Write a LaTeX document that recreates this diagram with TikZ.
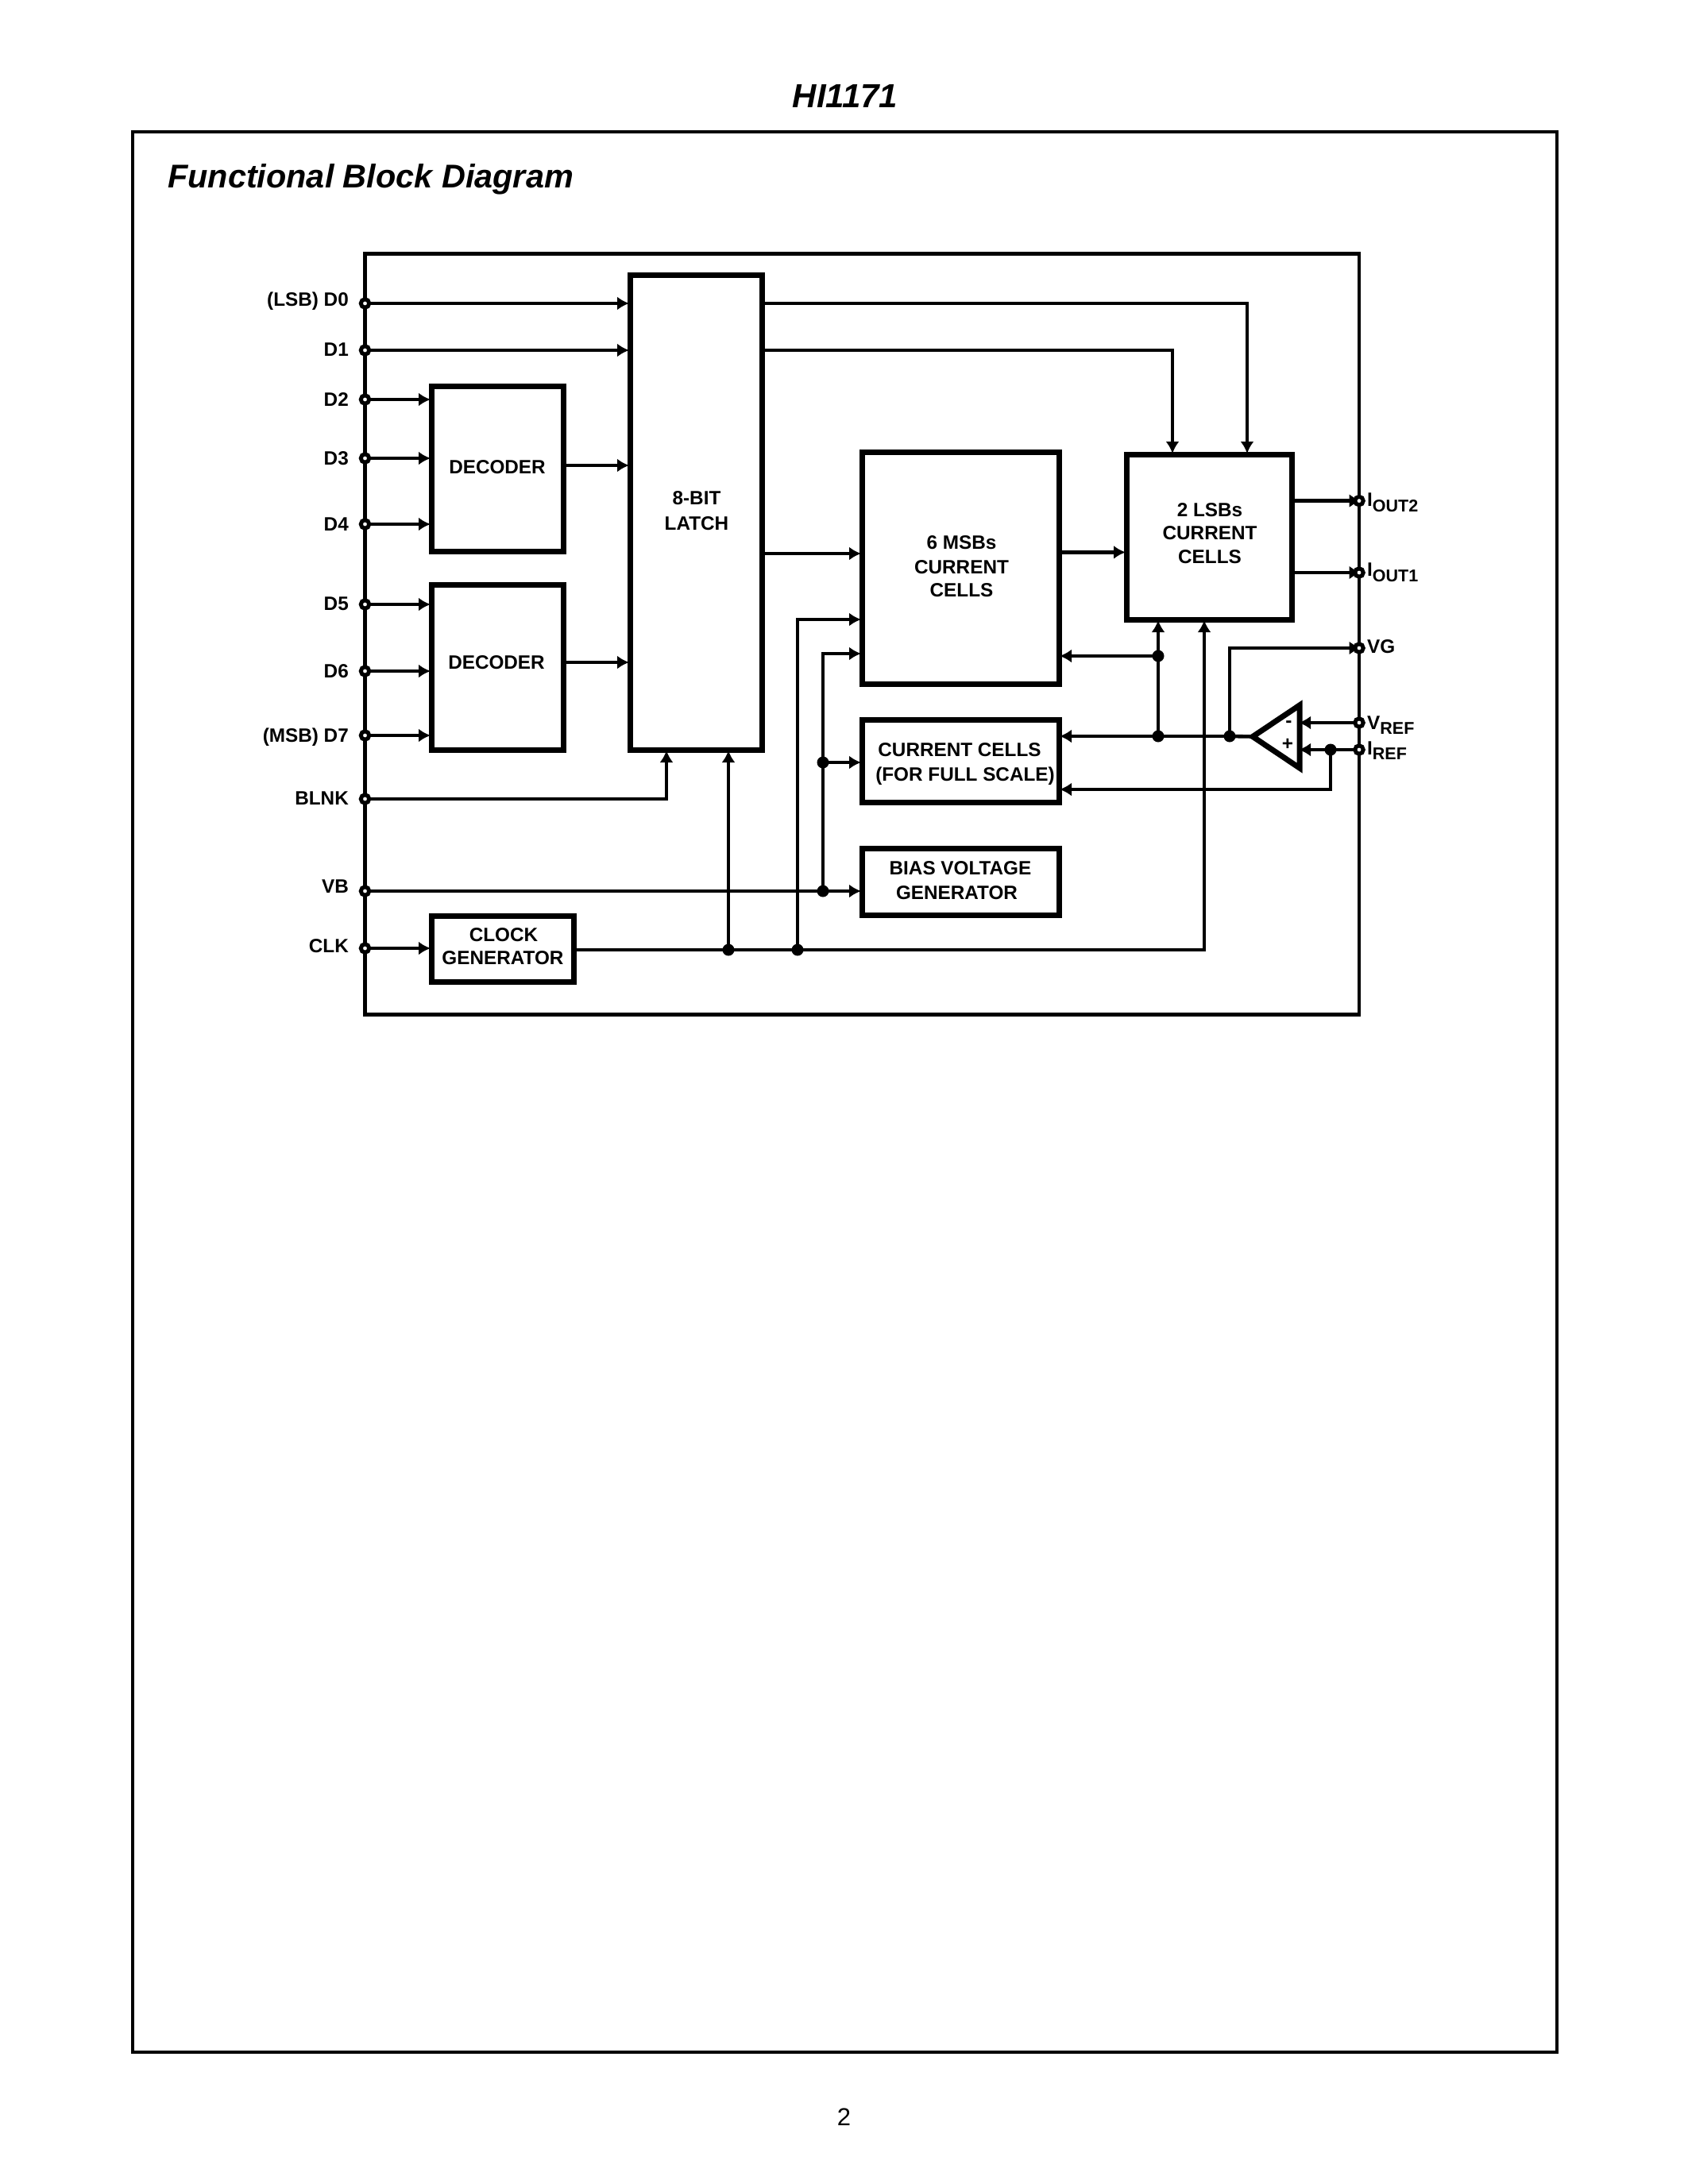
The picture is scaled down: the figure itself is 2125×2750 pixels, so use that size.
\documentclass[tikz,border=0pt]{standalone}
\usepackage{fontspec}
\setmainfont{Liberation Sans}
\usetikzlibrary{arrows.meta,calc}
\tikzset{
 wire/.style={line width=4.6pt},
 awire/.style={wire,-{Latex[length=15pt,width=17pt]},shorten >=-2.5pt},
 block/.style={draw,line width=7pt,inner sep=0pt,font=\fontsize{24.3}{28}\selectfont\bfseries,align=center},
 lab/.style={inner sep=0pt,font=\fontsize{24.3}{28}\selectfont\bfseries},
 term/.style={circle,draw,fill=white,line width=5pt,minimum size=10.5pt,inner sep=0pt},
 dot/.style={circle,fill=black,minimum size=15pt,inner sep=0pt},
}
\begin{document}
\begin{tikzpicture}[x=1pt,y=-1pt]
\useasboundingbox (0,0) rectangle (2125,2750);
\fill[white] (0,0) rectangle (2125,2750);
\node[inner sep=0pt,font=\fontsize{42}{48}\selectfont\bfseries\itshape] (title) at (1064,121) {HI1171};
\node[draw,line width=4.6pt,inner sep=0pt,anchor=north west,minimum width=1793pt,minimum height=2418pt] (frame) at (164.7,163.7) {};
\node[inner sep=0pt,anchor=base west,font=\fontsize{41.4}{48}\selectfont\bfseries\itshape] (heading) at (211,236) {Functional Block Diagram};
\node[inner sep=0pt,font=\fontsize{31}{36}\selectfont] (page) at (1062.5,2666) {2};

% package outline
\node[draw,line width=4.6pt,inner sep=0pt,anchor=north west,minimum width=1251.4pt,minimum height=957.8pt] (chip) at (457.1,317.3) {};

% blocks
\node[block,anchor=north west,minimum width=166pt,minimum height=208pt] (dec1) at (539.5,482.5) {};
\node[block,anchor=north west,minimum width=166pt,minimum height=208pt] (dec2) at (539.5,732.5) {};
\node[block,anchor=north west,minimum width=166pt,minimum height=598pt] (latch) at (789.5,342.5) {};
\node[block,anchor=north west,minimum width=248pt,minimum height=292pt] (msb) at (1081.5,565.5) {};
\node[block,anchor=north west,minimum width=208pt,minimum height=208pt] (lsb) at (1414.5,568.5) {};
\node[block,anchor=north west,minimum width=248pt,minimum height=104pt] (ccell) at (1081.5,903) {};
\node[block,anchor=north west,minimum width=248pt,minimum height=84pt] (bias) at (1081.5,1065) {};
\node[block,anchor=north west,minimum width=179pt,minimum height=83pt] (clkgen) at (539.5,1149.5) {};

% block texts
\node[lab] (t1) at (626,588) {DECODER};
\node[lab] (t2) at (625,834) {DECODER};
\node[lab] (t3) at (877,627) {8-BIT};
\node[lab] (t4) at (877,659) {LATCH};
\node[lab] (t5) at (1210.5,683) {6 MSBs};
\node[lab] (t6) at (1210.5,714) {CURRENT};
\node[lab] (t7) at (1210.5,743) {CELLS};
\node[lab] (t8) at (1523,642) {2 LSBs};
\node[lab] (t9) at (1523,671) {CURRENT};
\node[lab] (t10) at (1523,701) {CELLS};
\node[lab] (t11) at (1208,944) {CURRENT CELLS};
\node[lab] (t12) at (1215,977) {(FOR FULL SCALE)};
\node[lab] (t13) at (1209,1093) {BIAS VOLTAGE};
\node[lab] (t14) at (1204.5,1124) {GENERATOR};
\node[lab] (t15) at (634,1177) {CLOCK};
\node[lab] (t16) at (633,1206) {GENERATOR};

% amplifier
\coordinate (ampT) at (1636,888);
\coordinate (ampB) at (1636,967);
\coordinate (ampO) at (1577,927.5);
\coordinate (ampR) at (1637.5,927.5);
\draw[line width=7pt,miter limit=10,line join=miter] (ampT) -- (ampO) -- (ampB) -- cycle;
\node[lab] (minus) at (1622.5,912) {-};
\node[lab] (plus) at (1621,937) {+};

% left terminals
\foreach \n/\y/\tx/\ty in {d0/382/(LSB) D0/379,d1/441/D1/440,d2/503/D2/503,d3/577/D3/577,d4/660/D4/660,d5/761/D5/760,d6/845/D6/845.5,d7/926/(MSB) D7/928,blnk/1006/BLNK/1005,vb/1122/VB/1116,clk/1194/CLK/1191}{
  \coordinate (\n) at (459.5,\y);
  \node[lab,anchor=east] (l\n) at (439,\ty) {\tx};
}
% right terminals
\foreach \n/\y in {iout2/630.6,iout1/721,vg/816,vref/910,iref/944}{
  \coordinate (\n) at (1711,\y);
}
\node[lab,anchor=west] (liout2) at (1721,632.5) {I\raisebox{-7pt}{\fontsize{21.5}{24}\selectfont OUT2}};
\node[lab,anchor=west] (liout1) at (1721,720.5) {I\raisebox{-7pt}{\fontsize{21.5}{24}\selectfont OUT1}};
\node[lab,anchor=west] (lvg) at (1721,814) {VG};
\node[lab,anchor=west] (lvref) at (1721,913) {V\raisebox{-6pt}{\fontsize{21.5}{24}\selectfont REF}};
\node[lab,anchor=west] (liref) at (1721,945) {I\raisebox{-6pt}{\fontsize{21.5}{24}\selectfont REF}};

% internal points
\coordinate (vbus2) at (1036,1122);
\coordinate (ck1) at (917,1196);
\coordinate (ck2) at (1004,1196);
\coordinate (ck3) at (1516,1196);
\coordinate (jF) at (1458,927);
\coordinate (jB) at (1458,826);
\coordinate (jV) at (1548,927);
\coordinate (jI) at (1675,944);
\coordinate (jC) at (1036,960);

% inputs
\draw[awire] (d0) -- (d0 -| latch.west);
\draw[awire] (d1) -- (d1 -| latch.west);
\draw[awire] (d2) -- (d2 -| dec1.west);
\draw[awire] (d3) -- (d3 -| dec1.west);
\draw[awire] (d4) -- (d4 -| dec1.west);
\draw[awire] (d5) -- (d5 -| dec2.west);
\draw[awire] (d6) -- (d6 -| dec2.west);
\draw[awire] (d7) -- (d7 -| dec2.west);
\draw[awire] (dec1.east |- 0,586) -- (latch.west |- 0,586);
\draw[awire] (dec2.east |- 0,834) -- (latch.west |- 0,834);
\draw[awire] (blnk) -| (latch.south -| 839,0);
\draw[awire] (clk) -- (clk -| clkgen.west);
% latch outputs
\draw[awire] (latch.east |- d0) -| (lsb.north -| 1570,0);
\draw[awire] (latch.east |- d1) -| (lsb.north -| 1476,0);
\draw[awire] (latch.east |- 0,697) -- (msb.west |- 0,697);
\draw[awire] (msb.east |- 0,695.4) -- (lsb.west |- 0,695.4);
% lsb outputs
\draw[awire] (lsb.east |- iout2) -- (iout2);
\draw[awire] (lsb.east |- iout1) -- (iout1);
% clock bus
\draw[wire] (clkgen.east |- ck1) -- (ck2);
\draw[awire] (ck2) -- (ck3) -- (lsb.south -| ck3);
\draw[awire] (ck1) -- (latch.south -| ck1);
\draw[awire] (ck2) -- (1004,780) -- (msb.west |- 0,780);
% vb
\draw[awire] (vb) -- (bias.west |- vb);
\draw[awire] (vbus2) -- (1036,823) -- (msb.west |- 0,823);
\draw[awire] (jC) -- (ccell.west |- jC);
% amp outputs
\draw[wire] (ampO) -- (jV);
\draw[wire] (jV) -- (jF);
\draw[awire] (jF) -- (ccell.east |- jF);
\draw[wire] (jF) -- (jB);
\draw[awire] (jB) -- (lsb.south -| jB);
\draw[awire] (jB) -- (msb.east |- jB);
\draw[awire] (jV) -- (jV |- vg) -- (vg);
% refs
\draw[awire] (vref) -- (ampR |- vref);
\draw[awire] (iref) -- (ampR |- iref);
\draw[awire] (jI) -- (jI |- 0,994) -- (ccell.east |- 0,994);
% dots
\foreach \p in {ck1,ck2,vbus2,jC,jF,jB,jV,jI}{\node[dot] at (\p) {};}
% terminals
\foreach \p in {d0,d1,d2,d3,d4,d5,d6,d7,blnk,vb,clk,iout2,iout1,vg,vref,iref}{\node[term] at (\p) {};}
\end{tikzpicture}
\end{document}
